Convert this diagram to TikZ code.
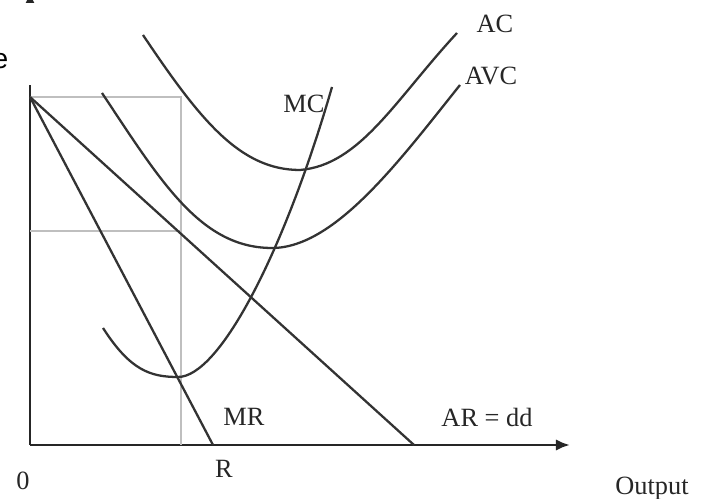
\documentclass[tikz,border=0pt]{standalone}
\usepackage{fontspec}
\setmainfont{Liberation Serif}
\newfontfamily\boxfont{Liberation Sans}
\usetikzlibrary{arrows.meta}

\begin{document}
\begin{tikzpicture}[x=0.02cm, y=-0.02cm,
    curve/.style={line width=1.3pt, black!80},
    guide/.style={line width=1.3pt, black!25},
    axis/.style={line width=1.7pt, black!85},
    lbl/.style={font=\fontsize{15}{17}\selectfont, inner sep=0pt, black!85}]
  \useasboundingbox (0,0) rectangle (701,499);

  % Axes
  \coordinate (O) at (30,445);
  \coordinate (Ytop) at (30,-8);
  \coordinate (Xend) at (570,445);
  \draw[axis, -{Latex[length=7pt,width=6pt]}] (O) -- (Ytop);
  \draw[axis, -{Latex[length=8pt,width=6.5pt]}] (O) -- (Xend);

  % Guide lines at the chosen output
  \coordinate (P) at (30,97);
  \coordinate (Pq) at (181,97);
  \coordinate (A) at (30,231);
  \coordinate (Aq) at (181,231);
  \coordinate (Q) at (181,445);
  \draw[guide] (P) -- (Pq) -- (Q);
  \draw[guide] (A) -- (Aq);

  % Revenue lines
  \coordinate (Rend) at (213,445);
  \coordinate (Dend) at (414,445);
  \draw[curve] (P) -- (Rend);
  \draw[curve] (P) -- (Dend);

  % Cost curves
  \draw[curve] (143,35).. controls (200,120) and (240,170).. (300,170)
                       .. controls (360,165) and (395,100).. (457,33);
  \draw[curve] (102,93).. controls (160,180) and (200,248).. (272,248)
                       .. controls (335,248) and (400,160).. (460,85);
  \draw[curve] (103,328).. controls (130,370) and (150,377).. (178,377)
                        .. controls (220,377) and (285,250).. (332,87);

  % Labels
  \node[lbl] (ac) at (495,24) {AC};
  \node[lbl] (avc) at (491,76) {AVC};
  \node[lbl] (mc) at (304,104) {MC};
  \node[lbl] (mr) at (244,417) {MR};
  \node[lbl] (ar) at (487,417) {AR = dd};
  \node[lbl] (zero) at (23,481) {0};
  \node[lbl] (r) at (224,469) {R};
  \node[lbl] (out) at (652,489) {Output};

  % Pasted box over the top of the axis
  \fill[white] (0,3) rectangle (40,85);
  \node[font=\boxfont\fontsize{16}{18}\selectfont, inner sep=0pt, anchor=east] (e) at (8.5,61) {e};
\end{tikzpicture}
\end{document}
